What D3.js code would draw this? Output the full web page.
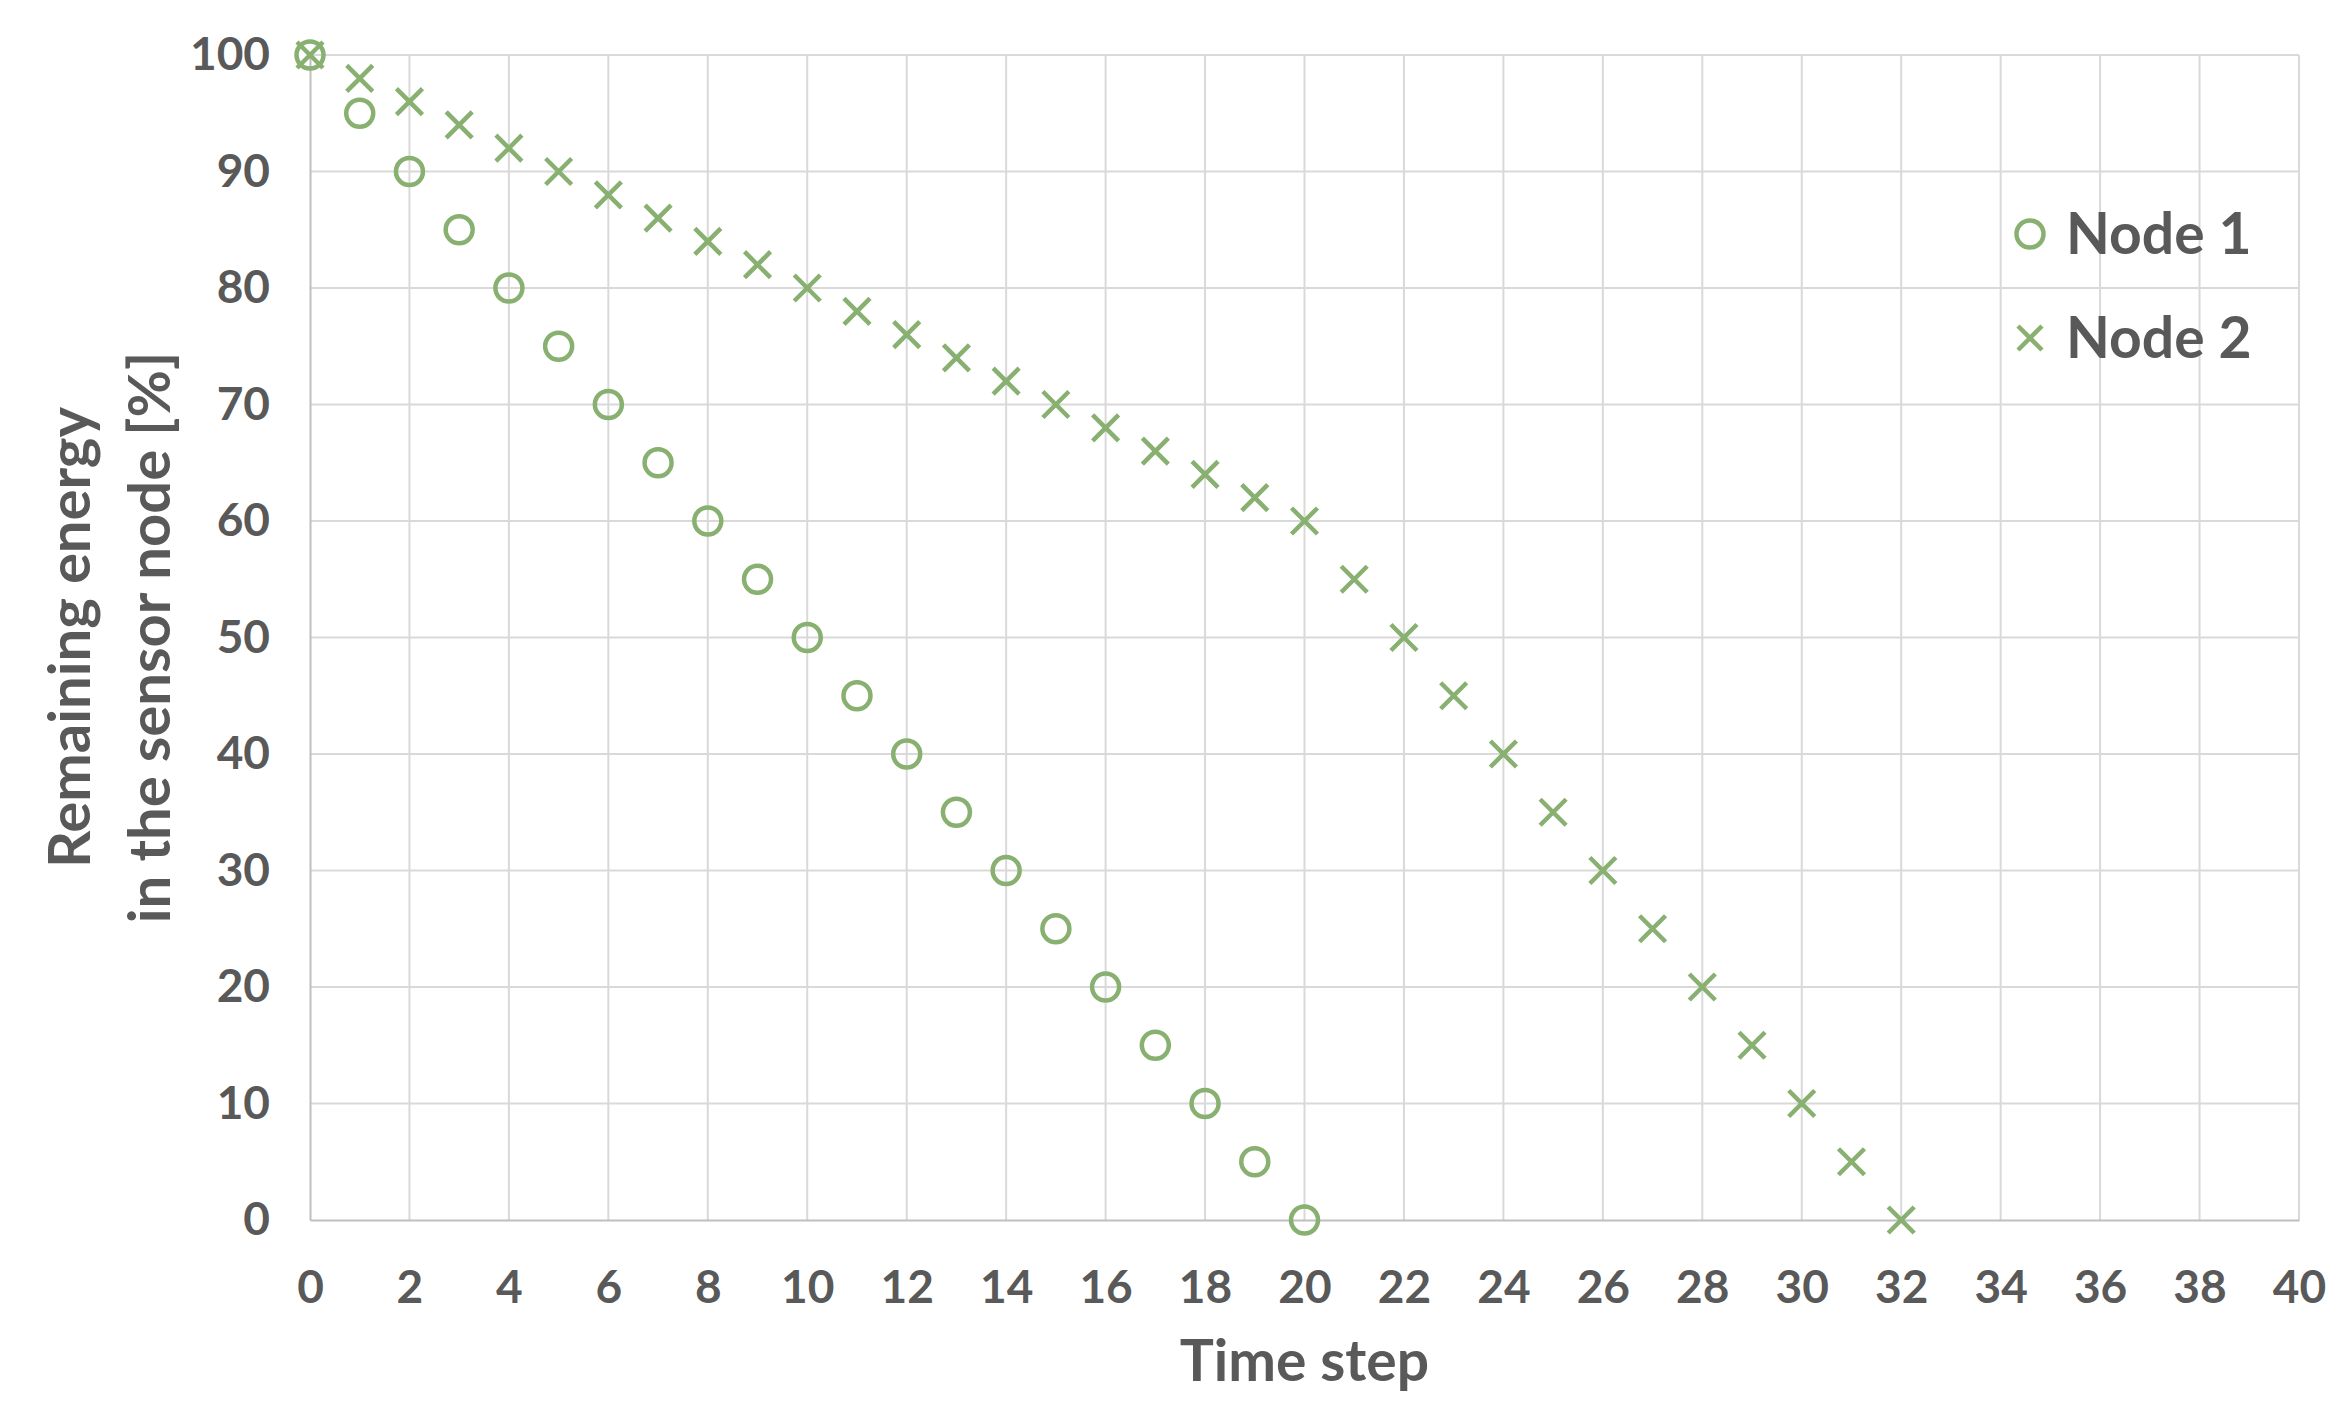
<!DOCTYPE html>
<html>
<head>
<meta charset="utf-8">
<script src="https://cdn.jsdelivr.net/npm/d3@7"></script>
<style>
  body { margin: 0; background: #fff; }
  text { font-family: Lato, "Open Sans", sans-serif; font-weight: bold; fill: #595959; }
</style>
</head>
<body>
<div id="chart"></div>
<script>
// time steps and remaining energy [%]
let node1Steps = [0, 1, 2, 3, 4, 5, 6, 7, 8, 9, 10, 11, 12, 13, 14, 15, 16, 17, 18, 19, 20];
let node1Energy = [100, 95, 90, 85, 80, 75, 70, 65, 60, 55, 50, 45, 40, 35, 30, 25, 20, 15, 10, 5, 0];
let node2Steps = [0, 1, 2, 3, 4, 5, 6, 7, 8, 9, 10, 11, 12, 13, 14, 15, 16, 17, 18, 19, 20,
                  21, 22, 23, 24, 25, 26, 27, 28, 29, 30, 31, 32];
let node2Energy = [100, 98, 96, 94, 92, 90, 88, 86, 84, 82, 80, 78, 76, 74, 72, 70, 68, 66, 64, 62, 60,
                   55, 50, 45, 40, 35, 30, 25, 20, 15, 10, 5, 0];
let xTicks = [0, 2, 4, 6, 8, 10, 12, 14, 16, 18, 20, 22, 24, 26, 28, 30, 32, 34, 36, 38, 40];
let yTicks = [0, 10, 20, 30, 40, 50, 60, 70, 80, 90, 100];
let seriesNames = ["Node 1", "Node 2"];

let width = 2348, height = 1426;
let margin = { top: 55, right: 49, bottom: 206, left: 310 };
let green = "#88b070";

let svg = d3.select("#chart")
    .append("svg")
    .attr("width", width)
    .attr("height", height);

let x = d3.scaleLinear().domain([0, 40]).range([margin.left, width - margin.right]);
let y = d3.scaleLinear().domain([0, 100]).range([height - margin.bottom, margin.top]);

// gridlines
svg.append("g")
    .selectAll("line")
    .data(xTicks.slice(1))
    .enter()
    .append("line")
    .attr("x1", d => x(d)).attr("x2", d => x(d))
    .attr("y1", y(0)).attr("y2", y(100))
    .attr("stroke", "#d9d9d9").attr("stroke-width", 2);

svg.append("g")
    .selectAll("line")
    .data(yTicks.slice(1))
    .enter()
    .append("line")
    .attr("x1", x(0)).attr("x2", x(40))
    .attr("y1", d => y(d)).attr("y2", d => y(d))
    .attr("stroke", "#d9d9d9").attr("stroke-width", 2);

// axes
let xAxis = svg.append("g")
    .attr("transform", `translate(0,${y(0)})`)
    .call(d3.axisBottom(x).tickValues(xTicks).tickSize(0).tickPadding(50));
xAxis.select(".domain").attr("stroke", "#bfbfbf").attr("stroke-width", 2);
xAxis.selectAll("text").attr("font-size", "46px").attr("font-family", null);

let yAxis = svg.append("g")
    .attr("transform", `translate(${x(0)},0)`)
    .call(d3.axisLeft(y).tickValues(yTicks).tickSize(0).tickPadding(40));
yAxis.select(".domain").attr("stroke", "#bfbfbf").attr("stroke-width", 2);
yAxis.selectAll("text").attr("font-size", "46px").attr("font-family", null);

// axis titles
svg.append("text")
    .attr("x", (x(0) + x(40)) / 2)
    .attr("y", 1381)
    .attr("text-anchor", "middle")
    .attr("font-size", "57px")
    .text("Time step");

let yTitle = svg.append("text")
    .attr("transform", `translate(0,${(y(0) + y(100)) / 2}) rotate(-90)`)
    .attr("text-anchor", "middle")
    .attr("font-size", "58px");
yTitle.append("tspan").attr("x", 0).attr("y", 90).text("Remaining energy");
yTitle.append("tspan").attr("x", 0).attr("y", 170).text("in the sensor node [%]");

// markers
let crossPath = r => `M${-r},${-r}L${r},${r}M${-r},${r}L${r},${-r}`;

svg.append("g")
    .selectAll("path")
    .data(node2Steps.map((s, i) => [s, node2Energy[i]]))
    .enter()
    .append("path")
    .attr("d", crossPath(13))
    .attr("transform", d => `translate(${x(d[0])},${y(d[1])})`)
    .attr("fill", "none")
    .attr("stroke", green)
    .attr("stroke-width", 4.5);

svg.append("g")
    .selectAll("circle")
    .data(node1Steps.map((s, i) => [s, node1Energy[i]]))
    .enter()
    .append("circle")
    .attr("cx", d => x(d[0]))
    .attr("cy", d => y(d[1]))
    .attr("r", 13.5)
    .attr("fill", "none")
    .attr("stroke", green)
    .attr("stroke-width", 4.5);

// legend
let legend = svg.append("g").attr("transform", "translate(2030,234)");

legend.append("circle")
    .attr("r", 13.5)
    .attr("fill", "none")
    .attr("stroke", green)
    .attr("stroke-width", 4.5);

legend.append("path")
    .attr("d", crossPath(12))
    .attr("transform", "translate(0,104)")
    .attr("fill", "none")
    .attr("stroke", green)
    .attr("stroke-width", 4.5);

legend.selectAll("text.lbl")
    .data(seriesNames)
    .enter()
    .append("text")
    .attr("class", "lbl")
    .attr("x", 36)
    .attr("y", (d, i) => i * 104 + 20)
    .attr("font-size", "57px")
    .text(d => d);
</script>
</body>
</html>
